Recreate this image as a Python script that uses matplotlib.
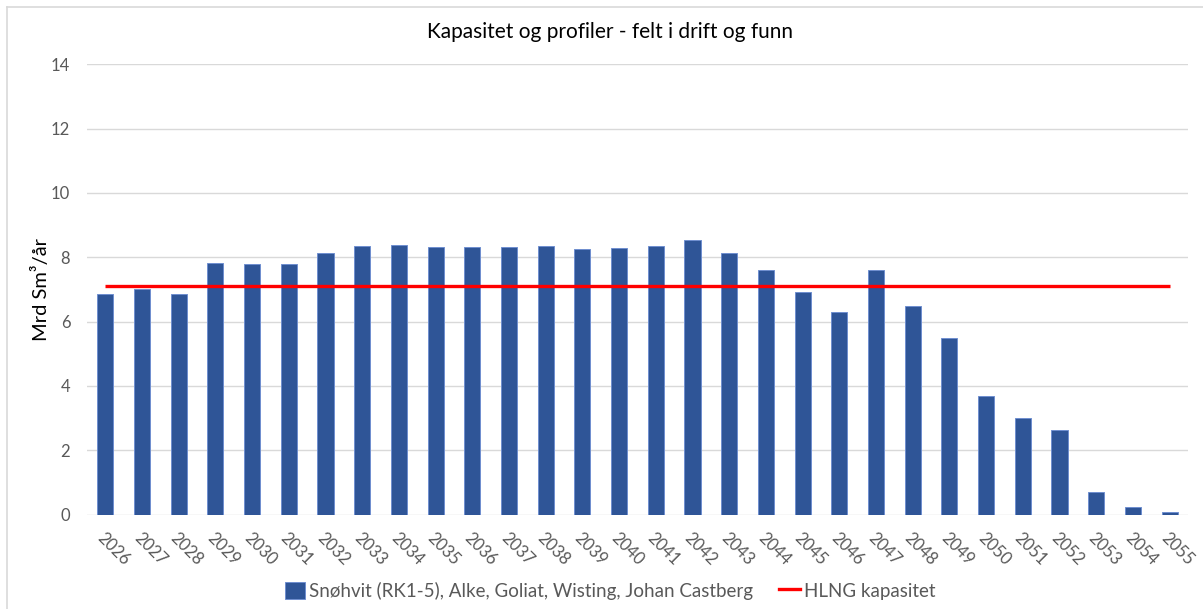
import matplotlib
matplotlib.use("Agg")
import matplotlib.pyplot as plt
from matplotlib.lines import Line2D
from matplotlib.patches import Patch

years = [str(y) for y in range(2026, 2056)]
produksjon = [6.86, 7.03, 6.86, 7.82, 7.80, 7.78, 8.12, 8.34, 8.39, 8.32,
              8.32, 8.32, 8.36, 8.27, 8.30, 8.36, 8.55, 8.12, 7.62, 6.92,
              6.31, 7.60, 6.50, 5.50, 3.68, 3.01, 2.63, 0.69, 0.23, 0.07]
hlng_kapasitet = [7.1] * len(years)

serie_navn = "Snøhvit (RK1-5), Alke, Goliat, Wisting, Johan Castberg"
linje_navn = "HLNG kapasitet"

plt.rcParams['font.family'] = ['Lato', 'DejaVu Sans']
grey_txt = '#595959'

fig = plt.figure(figsize=(12.03, 6.09), dpi=100)
ax = fig.add_axes([0.0723, 0.1549, 0.9152, 0.7395])

x = range(len(years))
ax.bar(x, produksjon, width=0.44, color='#2F5597', edgecolor='#6F8FD0', linewidth=0.7, zorder=2)
ax.plot(x, hlng_kapasitet, color='#FF0000', linewidth=2.4, zorder=3, solid_capstyle='butt')

ax.set_xlim(-0.5, len(years) - 0.5)
ax.set_ylim(0, 14)
ax.set_yticks(range(0, 15, 2))
ax.grid(axis='y', color='#D9D9D9', linewidth=1.0, zorder=0)
for s in ax.spines.values():
	s.set_visible(False)
ax.tick_params(axis='both', length=0, labelsize=12, colors=grey_txt)
ax.tick_params(axis='y', pad=12)
ax.tick_params(axis='x', pad=11)
ax.set_xticks(list(x))
ax.set_xticklabels(years, rotation=-45, ha='left', va='top', rotation_mode='anchor')

ax.set_ylabel("Mrd Sm³/år", fontsize=14.5, color='black', labelpad=1)
fig.text(0.507, 0.947, "Kapasitet og profiler - felt i drift og funn", fontsize=15,
	ha='center', va='center', color='black')

handles = [Patch(facecolor='#2F5597', edgecolor='#6F8FD0', linewidth=0.7),
	Line2D([0], [0], color='#FF0000', linewidth=2.4)]
fig.legend(handles, [serie_navn, linje_navn], loc='center', bbox_to_anchor=(0.507, 0.03),
	ncol=2, frameon=False, fontsize=13.5, labelcolor=grey_txt, handlelength=1.1,
	handleheight=1.0, handletextpad=0.2, columnspacing=1.4)

# ramme rundt diagrammet (venstre og topp)
fig.add_artist(Line2D([0.0058, 0.0058], [0.0, 0.9885], color='#D9D9D9', linewidth=1.2, transform=fig.transFigure))
fig.add_artist(Line2D([0.0058, 1.0], [0.9885, 0.9885], color='#D9D9D9', linewidth=1.2, transform=fig.transFigure))

fig.savefig("out.png", dpi=100)
